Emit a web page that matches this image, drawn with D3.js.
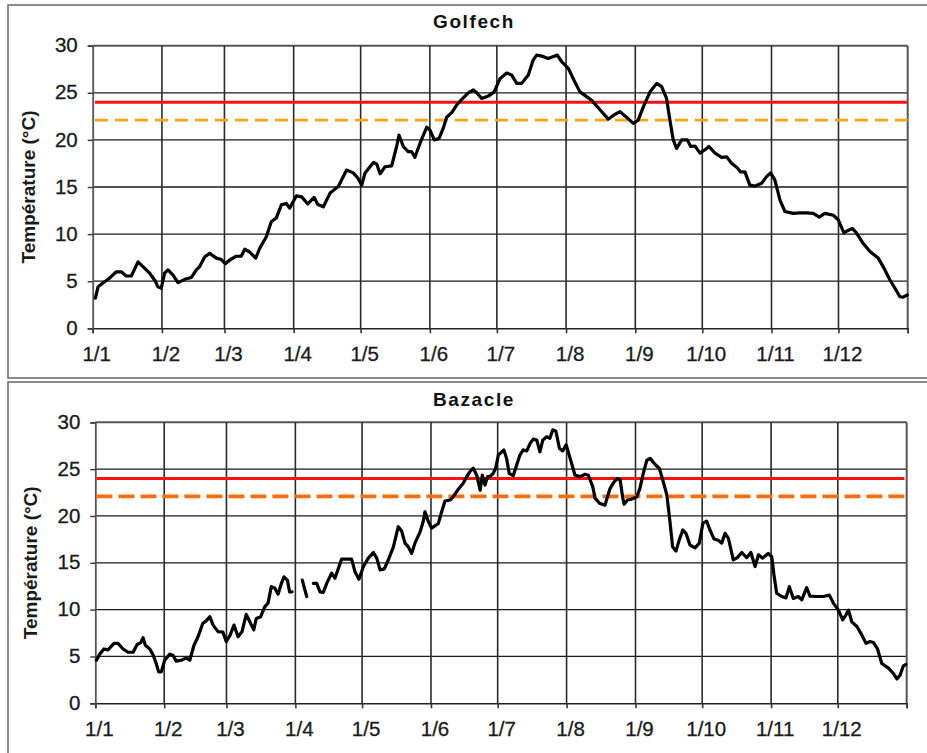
<!DOCTYPE html>
<html><head><meta charset="utf-8">
<script src="https://cdn.jsdelivr.net/npm/d3@7/dist/d3.min.js"></script>
<style>body{margin:0;background:#fff} svg{display:block}</style>
</head><body>
<svg id="chart" width="927" height="753"></svg>
<script>
// ---------------- data ----------------
const monthStartDays = [0,31,59,90,120,151,181,212,243,273,304,334];
const monthLabels = ["1/1","1/2","1/3","1/4","1/5","1/6","1/7","1/8","1/9","1/10","1/11","1/12"];
const yearEndDay = 365;
const yTicks = [0,5,10,15,20,25,30];
const yLabel = "Température (°C)";
const thresholdRed = 24;
const thresholdOrange = 22.1;

const golfechTitle = "Golfech";
const golfechDays = [1.2,2.4,4.6,6.9,10.6,12.8,15.0,17.3,20.3,22.5,25.5,27.8,29.2,30.7,32.2,33.7,36.0,38.2,41.2,44.2,46.4,47.9,50.2,52.4,55.4,57.6,59.4,61.4,64.3,66.5,68.1,70.3,73.0,74.8,77.7,80.0,82.2,84.5,86.7,88.2,91.2,93.6,96.3,99.2,100.8,103.3,106.3,110.0,113.7,116.7,118.9,120.5,121.9,125.7,127.2,128.7,130.9,133.9,136.1,137.2,139.1,141.3,142.8,144.3,146.6,149.6,151.0,153.0,155.1,157.0,158.5,160.8,163.0,165.3,168.2,170.5,172.0,174.2,177.2,179.8,182.4,185.4,187.6,189.9,192.1,195.1,197.3,198.8,201.1,204.0,206.3,208.1,210.0,213.0,215.2,218.2,221.2,223.5,227.2,230.9,233.1,236.1,239.1,242.1,244.3,246.6,249.6,252.6,254.8,257.0,258.5,260.0,261.5,263.8,266.3,267.8,269.7,272.0,274.2,276.0,278.7,281.7,283.9,286.2,288.4,290.2,292.1,294.3,296.6,299.6,301.8,303.6,305.5,307.8,310.0,313.7,316.7,319.7,322.7,325.4,327.9,331.7,333.9,336.4,338.4,340.3,342.1,345.1,348.1,351.8,354.0,357.0,359.3,361.5,363.0,364.8];
const golfechTemps = [3.2,4.4,4.8,5.2,6.0,6.0,5.55,5.55,7.05,6.55,5.85,5.1,4.4,4.25,5.85,6.2,5.65,4.85,5.2,5.4,6.2,6.55,7.6,7.95,7.45,7.3,6.85,7.25,7.65,7.65,8.4,8.1,7.45,8.5,9.7,11.3,11.7,13.1,13.25,12.75,14.05,13.95,13.2,13.9,13.15,12.9,14.35,15.05,16.8,16.5,15.9,15.2,16.45,17.6,17.45,16.4,17.15,17.25,19.3,20.5,19.3,18.75,18.75,18.15,19.65,21.35,21.05,20.0,20.15,21.25,22.4,22.9,23.7,24.3,25.0,25.3,25.0,24.4,24.65,25.1,26.5,27.1,26.9,26.0,26.0,26.9,28.5,29.0,28.9,28.65,28.85,29.0,28.3,27.6,26.5,25.1,24.6,24.2,23.2,22.2,22.6,23.0,22.4,21.75,22.1,23.5,25.1,26.0,25.65,24.4,22.1,20.0,19.1,20.0,20.0,19.3,19.35,18.6,18.95,19.3,18.6,18.15,18.2,17.5,17.1,16.6,16.6,15.2,15.1,15.4,16.1,16.5,15.75,13.6,12.4,12.2,12.25,12.25,12.2,11.8,12.2,12.0,11.5,10.15,10.4,10.6,10.1,9.0,8.15,7.45,6.55,5.15,4.25,3.35,3.3,3.55];

const bazacleTitle = "Bazacle";
const bazacleDays = [0.5,2.0,3.9,5.7,8.4,10.2,12.5,14.7,17.0,18.9,20.4,21.5,22.5,24.5,26.0,27.4,28.5,29.7,31.2,33.5,35.0,36.4,38.7,40.9,42.5,44.4,46.2,48.4,49.9,51.5,53.0,55.2,57.4,58.9,60.5,62.4,64.2,66.0,67.9,69.5,71.3,72.4,74.4,76.2,77.7,79.2,80.7,82.2,83.7,84.9,86.4,87.4,88.5,90.8,93.1,95.1,96.6,98.1,99.6,101.1,102.6,104.1,106.3,107.8,109.3,110.8,113.1,115.3,116.8,118.6,120.6,122.8,125.1,126.6,128.1,130.0,131.8,134.1,136.3,137.8,139.3,140.8,142.3,143.8,146.1,147.5,148.3,149.8,151.3,154.3,155.8,157.3,159.6,161.0,163.3,165.5,167.1,168.6,170.0,171.6,173.1,174.1,175.3,176.5,177.5,179.0,180.1,181.3,183.8,185.0,186.2,188.0,189.3,191.0,192.5,194.1,195.6,197.0,198.6,200.0,201.3,203.0,204.5,205.8,207.2,208.8,210.3,211.8,213.6,215.8,218.1,220.3,221.8,223.8,224.8,226.8,229.3,230.4,231.6,233.4,234.8,236.1,237.3,237.9,239.4,241.3,243.6,245.0,246.5,248.1,249.6,251.8,253.7,255.5,257.1,258.5,259.7,261.2,262.7,264.3,265.7,267.5,269.8,271.7,273.3,275.0,276.5,278.3,280.2,281.8,283.3,284.8,287.0,288.8,290.8,293.0,294.9,296.8,298.3,300.2,302.7,304.3,305.3,306.5,308.8,310.7,312.2,314.0,316.2,317.8,320.0,321.5,324.5,327.5,330.2,332.0,334.3,336.2,337.7,338.8,340.3,342.6,344.8,346.7,348.5,350.0,351.8,353.8,356.8,359.0,360.6,362.0,363.5,364.7];
const bazacleTemps = [4.6,5.25,5.8,5.7,6.4,6.4,5.8,5.45,5.45,6.3,6.45,7.0,6.2,5.8,5.15,4.25,3.35,3.35,4.6,5.25,5.1,4.5,4.6,4.85,4.6,6.2,7.1,8.55,8.8,9.25,8.35,7.65,7.6,6.6,7.2,8.35,7.1,7.65,9.5,8.7,7.85,9.05,9.25,10.3,10.7,12.45,12.3,11.65,12.8,13.5,13.15,11.9,11.9,null,13.15,11.4,null,12.8,12.8,11.9,11.85,12.8,13.9,13.35,14.35,15.4,15.4,15.4,14.05,13.25,14.6,15.5,16.1,15.5,14.25,14.35,15.3,16.7,18.85,18.4,17.1,16.7,16.0,17.1,18.3,19.4,20.45,19.4,18.7,19.2,20.45,21.6,21.7,22.05,22.85,23.5,24.2,24.75,25.1,24.35,22.75,24.35,23.3,24.2,24.2,24.55,25.1,26.5,27.05,26.15,24.55,24.3,25.25,26.5,27.05,26.95,27.75,28.2,28.1,26.85,28.1,28.45,28.3,29.2,29.05,27.2,26.95,27.6,26.15,24.35,24.2,24.45,24.35,23.1,21.9,21.35,21.15,22.05,22.95,23.65,24.0,23.85,21.9,21.25,21.7,21.8,22.05,22.95,24.55,25.95,26.15,25.5,25.1,23.65,22.25,19.4,16.7,16.25,17.45,18.5,18.15,16.9,16.6,17.1,19.2,19.45,18.5,17.55,17.4,17.1,18.15,17.6,15.3,15.55,16.1,15.55,16.1,14.6,15.85,15.5,16.0,15.65,13.7,11.75,11.4,11.25,12.45,11.2,11.4,11.05,12.35,11.45,11.4,11.4,11.55,10.7,9.95,8.9,9.45,9.95,8.7,8.2,7.3,6.4,6.6,6.5,5.85,4.25,3.75,3.2,2.6,3.0,4.0,4.15];

// ---------------- layout ----------------
const panels = [
  { title: golfechTitle, days: golfechDays, temps: golfechTemps,
    frame: [8, 5, 930, 373], left: 92.7, right: 907.7, top: 45.7, bottom: 328.3,
    titleY: 28, ylabX: 35, thrStart: 1, thrEnd: 365,
    orange: "#f9a31b", orangeWidth: 2.8, orangeDash: "13,7" },
  { title: bazacleTitle, days: bazacleDays, temps: bazacleTemps,
    frame: [8, 382, 930, 400], left: 95.3, right: 906.7, top: 422.3, bottom: 703.3,
    titleY: 406, ylabX: 37, thrStart: 0.5, thrEnd: 364,
    orange: "#ff6d0a", orangeWidth: 3.8, orangeDash: "16,6" }
];

const svg = d3.select("#chart");
svg.append("rect").attr("width", 927).attr("height", 753).attr("fill", "#fff");
const FONT = "Liberation Sans, Arial, sans-serif";

panels.forEach(p => {
  const g = svg.append("g");
  g.append("rect")
    .attr("x", p.frame[0]).attr("y", p.frame[1])
    .attr("width", p.frame[2]).attr("height", p.frame[3])
    .attr("fill", "none").attr("stroke", "#707070").attr("stroke-width", 1.6);

  const x = d3.scaleLinear().domain([0, yearEndDay]).range([p.left, p.right]);
  const y = d3.scaleLinear().domain([0, 30]).range([p.bottom, p.top]);

  // horizontal gridlines
  g.append("g").selectAll("line").data(yTicks.filter(v => v > 0)).join("line")
    .attr("x1", x(0)).attr("x2", x(yearEndDay))
    .attr("y1", d => y(d)).attr("y2", d => y(d))
    .attr("stroke", d => d === 30 ? "#555" : "#1a1a1a")
    .attr("stroke-width", d => d === 30 ? 2 : 1.3);

  // vertical gridlines
  g.append("g").selectAll("line").data(monthStartDays.slice(1).concat([yearEndDay])).join("line")
    .attr("x1", d => x(d)).attr("x2", d => x(d))
    .attr("y1", y(0)).attr("y2", y(30))
    .attr("stroke", d => d === yearEndDay ? "#555" : "#2a2a2a")
    .attr("stroke-width", d => d === yearEndDay ? 2 : 1.6);

  // axes
  const xAxis = d3.axisBottom(x)
    .tickValues(monthStartDays.concat([yearEndDay]))
    .tickFormat((d, i) => i < monthLabels.length ? monthLabels[i] : "")
    .tickSize(5).tickPadding(13);
  const gx = g.append("g").attr("transform", `translate(0,${y(0)})`).call(xAxis);
  gx.select(".domain").attr("stroke", "#222").attr("stroke-width", 1.6);
  gx.selectAll(".tick line").attr("stroke", "#333").attr("stroke-width", 1.6);
  gx.selectAll(".tick text").attr("dx", 3.5)
    .attr("font-family", FONT).attr("font-size", 20.5).attr("fill", "#1a1a1a")
    .attr("stroke", "#1a1a1a").attr("stroke-width", 0.3);

  const yAxis = d3.axisLeft(y).tickValues(yTicks).tickSize(5).tickPadding(10);
  const gy = g.append("g").attr("transform", `translate(${x(0)},0)`).call(yAxis);
  gy.select(".domain").attr("stroke", "#555").attr("stroke-width", 1.8);
  gy.selectAll(".tick line").attr("stroke", "#333").attr("stroke-width", 1.4);
  gy.selectAll(".tick text").attr("dy", "0.3em")
    .attr("font-family", FONT).attr("font-size", 20.5).attr("fill", "#1a1a1a")
    .attr("stroke", "#1a1a1a").attr("stroke-width", 0.3);

  // thresholds
  g.append("line")
    .attr("x1", x(p.thrStart)).attr("x2", x(p.thrEnd))
    .attr("y1", y(thresholdRed)).attr("y2", y(thresholdRed))
    .attr("stroke", "#ff1010").attr("stroke-width", 3);
  g.append("line")
    .attr("x1", x(p.thrStart)).attr("x2", x(p.thrEnd))
    .attr("y1", y(thresholdOrange)).attr("y2", y(thresholdOrange))
    .attr("stroke", p.orange).attr("stroke-width", p.orangeWidth)
    .attr("stroke-dasharray", p.orangeDash);

  // temperature line
  const pts = p.days.map((d, i) => ({ day: d, t: p.temps[i] }));
  const line = d3.line().defined(d => d.t != null)
    .x(d => x(d.day)).y(d => y(d.t));
  g.append("path").datum(pts).attr("d", line)
    .attr("fill", "none").attr("stroke", "#000").attr("stroke-width", 3.2)
    .attr("stroke-linejoin", "round").attr("stroke-linecap", "round");

  // title
  g.append("text").attr("x", 474).attr("y", p.titleY)
    .attr("text-anchor", "middle").attr("font-family", FONT)
    .attr("font-weight", "bold").attr("font-size", 19).attr("letter-spacing", 1.6)
    .attr("fill", "#111").text(p.title);

  // y label
  g.append("text")
    .attr("transform", `translate(${p.ylabX},${(y(0) + y(30)) / 2}) rotate(-90)`)
    .attr("text-anchor", "middle").attr("font-family", FONT)
    .attr("font-size", 19).attr("font-weight", "bold").attr("fill", "#1a1a1a")
    .text(yLabel);
});
</script>
</body></html>
